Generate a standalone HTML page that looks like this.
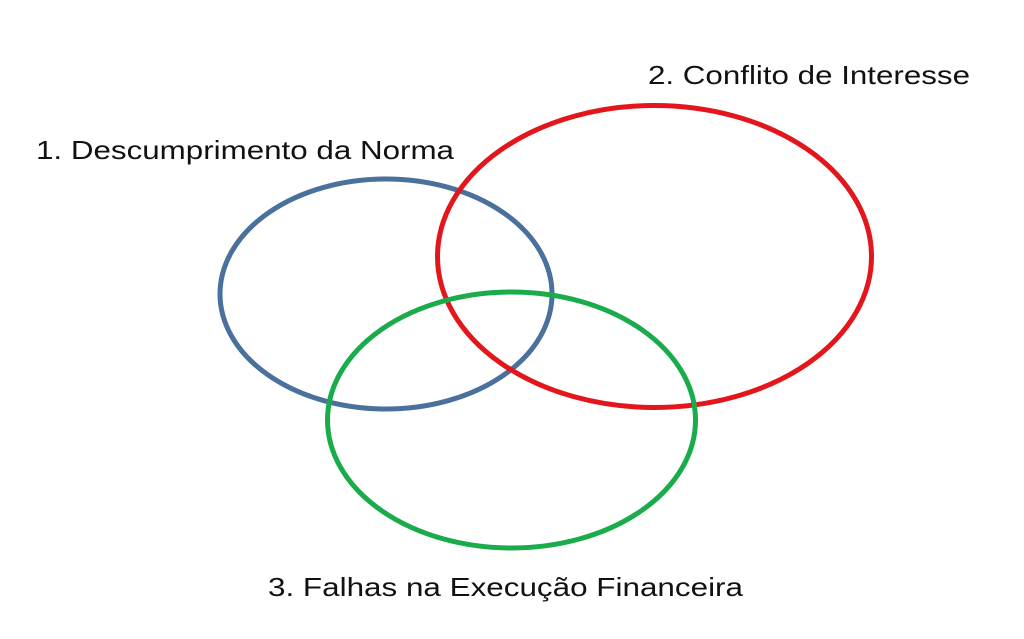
<!DOCTYPE html>
<html><head><meta charset="utf-8"><style>
html,body{margin:0;padding:0;background:#fff;}
svg{display:block;}
text{font-family:"Liberation Sans",Arial,sans-serif;font-size:26px;fill:#111;}
</style></head><body>
<svg width="1024" height="639" viewBox="0 0 1024 639" xmlns="http://www.w3.org/2000/svg">
<rect width="1024" height="639" fill="#fff"/>
<ellipse cx="386" cy="294" rx="166" ry="115" fill="none" stroke="#4a709c" stroke-width="5"/>
<ellipse cx="654.5" cy="256.5" rx="217" ry="151" fill="none" stroke="#e3161c" stroke-width="5"/>
<ellipse cx="511.5" cy="420" rx="184" ry="128" fill="none" stroke="#1aab4b" stroke-width="5"/>
<text x="36" y="159" textLength="418" lengthAdjust="spacingAndGlyphs">1. Descumprimento da Norma</text>
<text x="648" y="84" textLength="322" lengthAdjust="spacingAndGlyphs">2. Conflito de Interesse</text>
<text x="268" y="596" textLength="475" lengthAdjust="spacingAndGlyphs">3. Falhas na Execução Financeira</text>
</svg>
</body></html>
